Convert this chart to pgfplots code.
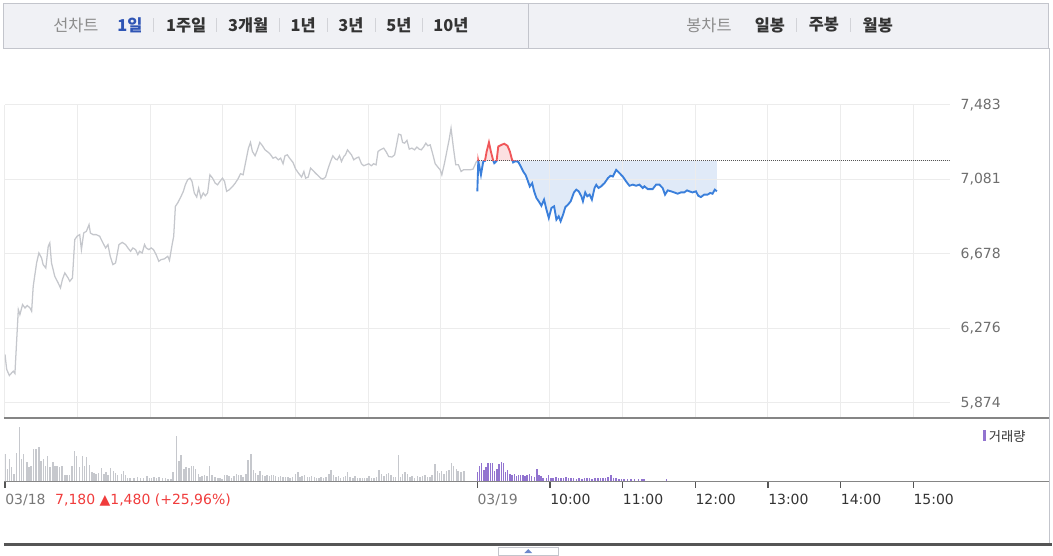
\documentclass[border=0pt]{standalone}
\usepackage{pgfplots}
\pgfplotsset{compat=1.18}
\usepackage{pgfplotstable}
\usepgfplotslibrary{fillbetween}
\usepackage{fontspec}
\setmainfont{DejaVu Sans}
\newfontfamily\kr{Noto Sans CJK KR}
\definecolor{gridc}{HTML}{ECECEC}
\definecolor{graylinec}{HTML}{C5C7CC}
\definecolor{bluec}{HTML}{3A7FDB}
\definecolor{redc}{HTML}{F0575A}
\definecolor{fillblue}{HTML}{E0EAF8}
\definecolor{fillred}{HTML}{FCE0E1}
\definecolor{volgray}{HTML}{C6C8CD}
\definecolor{volpurple}{HTML}{9274D0}
\definecolor{tabbg}{HTML}{F0F1F5}
\definecolor{tabborder}{HTML}{C3C5CC}
\definecolor{axisc}{HTML}{858585}
\definecolor{labc}{HTML}{6E6E6E}
\definecolor{datec}{HTML}{777777}
\definecolor{hourc}{HTML}{333333}
\definecolor{dotc}{HTML}{555555}
\definecolor{tabgray}{HTML}{8C8C8C}
\definecolor{tabblue}{HTML}{2F55B5}
\definecolor{tabdark}{HTML}{333333}
\definecolor{sepc}{HTML}{D2D3D8}
\definecolor{redtext}{HTML}{F03C3C}
\definecolor{botc}{HTML}{555555}

\pgfplotstableread{
m p
0 6135
1.4 6054
3.6 6021
5.5 6035
6.9 6044
8.2 6032
11.0 6377
12.3 6350
14.5 6404
16.5 6386
18.4 6399
20.6 6386
22.0 6368
23.3 6503
26.1 6629
28.0 6683
30.2 6656
31.5 6620
33.7 6602
35.7 6719
37.0 6737
38.4 6629
41.1 6557
43.9 6521
45.8 6494
47.4 6539
49.4 6575
52.1 6548
53.5 6530
55.7 6548
57.6 6755
59.5 6773
61.7 6782
63.1 6701
65.0 6791
67.2 6800
69.4 6836
70.5 6791
72.7 6782
75.4 6782
78.2 6773
80.9 6737
83.1 6710
85.0 6728
86.9 6665
89.1 6620
91.3 6629
94.1 6728
96.8 6740
99.6 6728
101.5 6710
103.7 6692
105.6 6710
107.8 6701
109.7 6674
111.1 6692
113.3 6683
115.2 6728
116.6 6710
118.8 6701
120.7 6710
122.6 6701
124.8 6674
127.0 6638
128.9 6647
131.6 6651
134.4 6665
135.8 6643
138.0 6728
139.3 6773
140.7 6935
142.6 6953
145.4 6989
147.3 7016
148.9 7051
150.8 7078
152.8 7087
154.4 7070
156.3 7007
158.3 6985
159.9 7033
161.8 6980
163.7 7007
165.4 6992
167.3 7007
169.2 7105
171.4 7087
173.6 7060
175.5 7051
177.4 7069
179.6 7087
181.3 7069
183.0 7016
185.1 7024
187.9 7042
190.1 7060
192.3 7082
194.5 7111
196.6 7105
198.8 7177
201.0 7249
202.7 7280
204.3 7231
206.5 7208
208.4 7240
210.4 7280
212.6 7262
214.7 7240
217.5 7226
219.4 7213
221.3 7195
223.5 7201
225.7 7186
227.6 7195
229.6 7165
231.2 7208
233.1 7213
235.0 7195
237.8 7172
240.0 7136
242.7 7111
244.9 7093
246.8 7123
248.2 7087
250.4 7093
252.3 7141
254.2 7129
256.4 7114
258.6 7100
260.6 7087
262.5 7082
264.7 7093
266.9 7141
268.8 7177
270.7 7208
272.9 7190
274.3 7186
276.2 7208
277.8 7177
279.8 7204
281.1 7213
282.8 7240
284.4 7226
286.1 7213
288.0 7186
289.9 7195
292.1 7201
294.3 7165
296.2 7154
298.1 7159
300.3 7165
302.5 7154
304.4 7165
306.4 7159
308.0 7231
309.9 7240
312.7 7249
314.6 7231
316.8 7204
319.5 7201
321.7 7213
323.6 7276
325.0 7325
326.9 7321
328.3 7280
329.9 7276
331.9 7291
333.8 7244
336.0 7249
338.2 7240
340.1 7255
342.0 7244
343.7 7240
345.6 7255
347.5 7276
349.1 7262
351.1 7267
353.0 7222
355.2 7165
357.4 7147
359.3 7132
360.7 7105
362.9 7168
364.8 7231
366.7 7294
368.3 7357
370.3 7249
372.2 7159
374.4 7159
376.6 7123
378.5 7132
381.2 7132
384.0 7132
386.5 7136
389.5 7180
}\dayone

\pgfplotstableread{
m p
390.0 7016
390.8 7178
393.0 7105
394.9 7177
396.3 7180
397.7 7231
399.6 7280
401.2 7231
403.2 7180
404.0 7168
405.9 7180
407.3 7258
410.0 7267
412.2 7273
414.9 7262
416.9 7231
418.3 7195
419.6 7172
421.0 7178
423.7 7176
425.9 7150
427.9 7123
429.8 7105
431.4 7078
433.3 7042
435.3 7060
436.9 7016
438.8 6980
440.7 6962
442.9 6938
445.1 6971
447.1 6917
449.0 6872
451.2 6926
453.4 6935
455.3 6863
457.2 6881
458.8 6854
460.8 6890
462.7 6931
464.9 6944
467.1 6962
469.8 7010
471.7 7025
473.7 7016
475.9 6989
477.2 6962
479.1 7010
480.8 6989
482.7 6998
484.6 6971
486.8 7034
488.2 7051
490.1 7034
492.3 7043
495.1 7061
497.8 7087
500.0 7100
501.9 7096
504.7 7132
507.4 7114
510.1 7096
512.9 7069
515.6 7046
518.4 7052
521.1 7046
523.8 7052
526.6 7034
528.0 7043
530.7 7028
534.8 7028
537.6 7052
540.3 7052
543.0 7034
545.0 6998
547.2 7021
549.9 7016
552.6 7010
555.4 7003
558.1 7010
560.9 7010
563.1 7021
565.0 7016
567.7 7010
570.5 7016
572.4 6992
574.6 6985
577.3 6998
580.1 6998
582.3 7007
584.2 7003
586.1 7025
587.8 7016
}\daytwo

\pgfplotstableread{
m v
0 27.4
2.0 12.9
3.7 22.6
5.5 14.5
7.3 8.1
9.5 29.0
12.0 54.2
13.8 22.6
15.5 27.4
18.0 19.4
19.8 14.5
21.6 16.1
23.4 32.3
25.5 32.9
28.0 34.8
29.8 21.0
31.6 22.6
33.4 16.1
35.2 25.2
37.3 14.5
39.5 19.4
41.3 16.1
43.1 15.5
45.2 14.5
47.0 15.2
49.5 6.5
51.3 7.1
53.1 7.1
55.2 16.1
57.4 30.6
59.1 25.8
61.3 14.5
63.8 25.8
65.6 16.1
67.4 24.2
69.9 16.8
71.7 9.7
73.4 9.0
75.2 8.1
77.0 8.7
79.9 13.5
81.7 8.1
83.4 9.7
85.2 6.5
87.0 13.5
89.5 10.3
91.3 8.7
93.1 6.5
96.0 8.1
97.7 10.3
99.5 6.5
101.3 3.9
103.1 3.2
106.7 3.9
109.5 4.8
112.0 3.2
114.5 3.2
117.4 5.8
119.2 3.2
121.0 3.2
123.1 4.5
125.3 3.9
127.0 4.8
129.9 3.2
132.4 3.9
134.5 2.6
137.1 2.6
138.8 9.7
141.7 45.2
143.5 21.0
145.3 26.5
147.8 12.9
149.6 14.5
152.1 13.5
153.9 16.1
155.6 15.5
157.4 12.9
159.6 8.1
161.0 4.8
162.8 5.8
164.6 6.5
166.7 5.8
168.9 16.1
171.0 7.1
173.5 4.8
175.7 3.2
177.4 3.9
179.2 2.6
181.4 7.1
183.2 7.1
185.0 5.8
187.1 3.9
188.9 5.8
191.0 8.1
192.8 7.1
195.0 6.5
196.7 4.8
198.9 8.1
200.7 21.9
203.2 27.4
205.0 11.3
206.7 9.0
208.9 7.1
210.7 10.3
212.8 6.5
214.6 5.8
216.4 7.1
218.2 5.8
220.0 6.5
221.8 7.1
223.5 5.8
225.7 4.8
227.5 5.8
229.6 4.8
231.8 4.8
233.6 4.8
235.3 3.9
237.5 4.8
240.0 8.1
241.8 9.7
243.6 4.8
245.4 5.8
247.5 6.5
249.6 4.8
251.4 4.8
253.2 5.8
255.4 4.8
257.1 3.9
259.3 3.9
261.1 4.8
263.2 3.9
265.0 4.8
267.5 8.1
269.3 11.3
271.1 6.5
273.2 4.8
275.4 5.8
277.2 3.9
279.3 4.8
281.1 5.8
282.9 9.7
284.7 4.8
287.2 3.9
289.0 5.8
291.1 3.9
293.2 3.2
295.0 3.9
296.8 3.2
299.0 3.2
300.7 5.8
302.5 3.9
304.7 3.2
306.8 4.8
309.0 11.3
310.8 8.1
312.9 5.8
315.0 8.1
316.8 9.0
318.6 6.5
320.8 4.8
322.5 4.8
324.7 26.5
326.5 4.8
328.3 8.1
330.4 9.7
332.5 8.1
334.3 4.8
336.1 5.8
338.3 3.9
340.8 5.8
342.6 4.8
344.7 5.8
346.9 6.5
349.0 4.8
350.8 4.8
352.6 6.5
355.1 17.7
356.9 10.3
358.6 9.0
360.4 10.3
362.6 8.1
364.4 10.3
366.5 11.3
368.6 18.7
370.4 15.5
372.6 12.3
374.0 10.3
376.5 9.7
379.0 10.3
}\volone

\pgfplotstableread{
m v
390.1 9.7
391.9 16.1
393.3 18.7
395.5 11.3
397.2 14.5
399.0 18.7
400.8 18.7
402.6 18.7
404.4 10.3
406.2 12.9
408.0 17.7
409.8 20.0
411.5 18.7
413.3 9.7
415.1 11.3
416.9 8.1
418.7 7.1
420.5 8.1
422.3 5.8
424.0 7.1
425.8 6.5
427.6 7.1
429.4 5.8
431.2 7.1
433.0 8.1
434.8 5.8
437.3 4.8
439.1 12.9
440.9 6.5
442.6 5.8
444.4 3.9
446.9 3.2
448.7 7.1
450.9 3.9
452.6 3.2
455.1 4.8
456.9 3.9
459.1 3.2
461.2 3.9
463.4 4.8
465.2 3.9
467.3 3.2
469.4 3.9
471.9 2.6
474.1 3.2
476.6 2.6
478.4 3.2
480.5 3.9
482.7 3.2
484.8 2.6
487.3 3.2
489.5 3.9
491.6 3.2
493.7 3.9
495.9 3.2
498.0 4.8
500.2 7.1
502.3 3.9
504.5 3.2
507.0 2.6
509.1 2.6
511.3 2.6
514.1 2.6
517.0 2.6
519.8 2.6
523.0 2.3
525.9 2.3
527.7 2.3
546.3 2.6
}\voltwo

\begin{document}
\begin{tikzpicture}
\begin{scope}[x=0.75pt,y=0.75pt]
\useasboundingbox (0,0) rectangle (1053,553);
% tab bar
\fill[tabbg] (4,504.5) rectangle (1050,549.5);
\draw[tabborder, line width=0.75pt] (4,504.5) rectangle (1050,549.5);
\draw[tabborder, line width=0.75pt] (529.5,504.5) -- (529.5,549.5);
\begin{scope}[every node/.style={inner sep=0pt}]
\node[text=tabgray, font=\kr\fontsize{12.3pt}{14pt}\selectfont] at (76,528) {선차트};
\node[text=tabblue, font=\kr\bfseries\fontsize{12.3pt}{14pt}\selectfont] at (130,528) {1일};
\node[text=tabdark, font=\kr\bfseries\fontsize{12.3pt}{14pt}\selectfont] at (186.5,528) {1주일};
\node[text=tabdark, font=\kr\bfseries\fontsize{12.3pt}{14pt}\selectfont] at (248.5,528) {3개월};
\node[text=tabdark, font=\kr\bfseries\fontsize{12.3pt}{14pt}\selectfont] at (303.5,528) {1년};
\node[text=tabdark, font=\kr\bfseries\fontsize{12.3pt}{14pt}\selectfont] at (351.5,528) {3년};
\node[text=tabdark, font=\kr\bfseries\fontsize{12.3pt}{14pt}\selectfont] at (399.5,528) {5년};
\node[text=tabdark, font=\kr\bfseries\fontsize{12.3pt}{14pt}\selectfont] at (451.5,528) {10년};
\node[text=tabgray, font=\kr\fontsize{12.3pt}{14pt}\selectfont] at (710,528) {봉차트};
\node[text=tabdark, font=\kr\bfseries\fontsize{12.3pt}{14pt}\selectfont] at (771,528) {일봉};
\node[text=tabdark, font=\kr\bfseries\fontsize{12.3pt}{14pt}\selectfont] at (825,528) {주봉};
\node[text=tabdark, font=\kr\bfseries\fontsize{12.3pt}{14pt}\selectfont] at (879,528) {월봉};
\end{scope}
\foreach \sx in {154,217,280,328,376,423,797.7,851.7}{
  \draw[sepc, line width=0.75pt] (\sx,521) -- (\sx,535);
}
\draw[tabborder, line width=0.75pt] (1050.5,8) -- (1050.5,504.5);
\end{scope}

% price axis (grid, day one)
\begin{axis}[at={(3.75pt,101.25pt)}, anchor=south west,
  width=709.5pt, height=234.75pt, scale only axis,
  xmin=0, xmax=780, ymin=5794.7, ymax=7483,
  axis line style={draw=none},
  xtick={0,60,120,180,240,300,360,450,510,570,630,690,750},
  xticklabels={,,,,,,,,,,,,},
  ytick={5874,6276.25,6678.5,7080.75,7483},
  yticklabels={{5,874},{6,276},{6,678},{7,081},{7,483}},
  yticklabel pos=right,
  yticklabel style={font=\fontsize{10.5pt}{12pt}\selectfont, text=labc, anchor=west, xshift=4.8pt},
  major tick length=0pt,
  grid=major, major grid style={draw=gridc, line width=0.75pt}]
\addplot[color=graylinec, line width=0.95pt] table[x=m,y=p] {\dayone};
\addplot[color=dotc, line width=0.75pt, dash pattern=on 0.75pt off 0.75pt] coordinates {(390,7180) (780,7180)};
\end{axis}

% below previous close (clipped axis)
\begin{axis}[at={(3.75pt,101.25pt)}, anchor=south west,
  width=709.5pt, height=192.62pt, scale only axis,
  xmin=0, xmax=780, ymin=5794.7, ymax=7180, hide axis]
\addplot[name path=d2, draw=none, forget plot] table[x=m,y=p] {\daytwo};
\addplot[name path=base, draw=none, forget plot] coordinates {(390,7180) (587.8,7180)};
\addplot[fill=fillblue, draw=none] fill between[of=d2 and base];
\addplot[color=dotc, line width=0.75pt, dash pattern=on 0.75pt off 0.75pt] coordinates {(390,7180) (780,7180)};
\addplot[color=bluec, line width=1.4pt] table[x=m,y=p] {\daytwo};
\end{axis}

% above previous close (clipped axis)
\begin{axis}[at={(3.75pt,293.87pt)}, anchor=south west,
  width=709.5pt, height=42.13pt, scale only axis,
  xmin=0, xmax=780, ymin=7180, ymax=7483, hide axis]
\addplot[name path=d2u, draw=none, forget plot] table[x=m,y=p] {\daytwo};
\addplot[name path=baseu, draw=none, forget plot] coordinates {(390,7180) (587.8,7180)};
\addplot[fill=fillred, draw=none] fill between[of=d2u and baseu];
\addplot[color=redc, line width=1.4pt] table[x=m,y=p] {\daytwo};
\end{axis}

% volume axis
\begin{axis}[at={(3.75pt,53pt)}, anchor=south west,
  width=709.5pt, height=46.75pt, scale only axis,
  xmin=0, xmax=780, ymin=0, ymax=62.3,
  axis line style={draw=none},
  ytick=\empty,
  xtick={0,390,450,510,570,630,690,750},
  xticklabels={\textcolor{datec}{03/18},\textcolor{datec}{03/19},10:00,11:00,12:00,13:00,14:00,15:00},
  xtick pos=left, tick align=outside, major tick length=4.5pt,
  tick style={draw=dotc, line width=0.9pt},
  xticklabel style={font=\fontsize{10.5pt}{12pt}\selectfont, text=hourc, anchor=north west, inner sep=0pt, yshift=-5pt}]
\addplot[ycomb, draw=volgray, line width=1.1pt] table[x=m,y=v] {\volone};
\addplot[ycomb, draw=volpurple, line width=1.1pt] table[x=m,y=v] {\voltwo};
\end{axis}

\begin{scope}[x=0.75pt,y=0.75pt]
\draw[axisc, line width=1.3pt] (4,134.5) -- (1050,134.5);
\draw[axisc, line width=0.9pt] (4,70.7) -- (1050,70.7);
\fill[volpurple] (984,111) rectangle (987,122);
\node[anchor=west, inner sep=0pt, text=hourc, font=\kr\fontsize{10pt}{12pt}\selectfont] at (990,116) {거래량};
\node[anchor=west, inner sep=0pt, text=redtext, font=\fontsize{10.5pt}{12pt}\selectfont] at (55,52) {7,180 ▲1,480 (+25,96\%)};
\draw[botc, line width=2.25pt] (4,7.5) -- (1053,7.5);
\filldraw[fill=white, draw=tabborder, line width=0.75pt] (499,-3) rectangle (559,5);
\fill[tabblue!70] (525,-1) -- (529,3) -- (533,-1) -- cycle;
\end{scope}
\end{tikzpicture}
\end{document}
